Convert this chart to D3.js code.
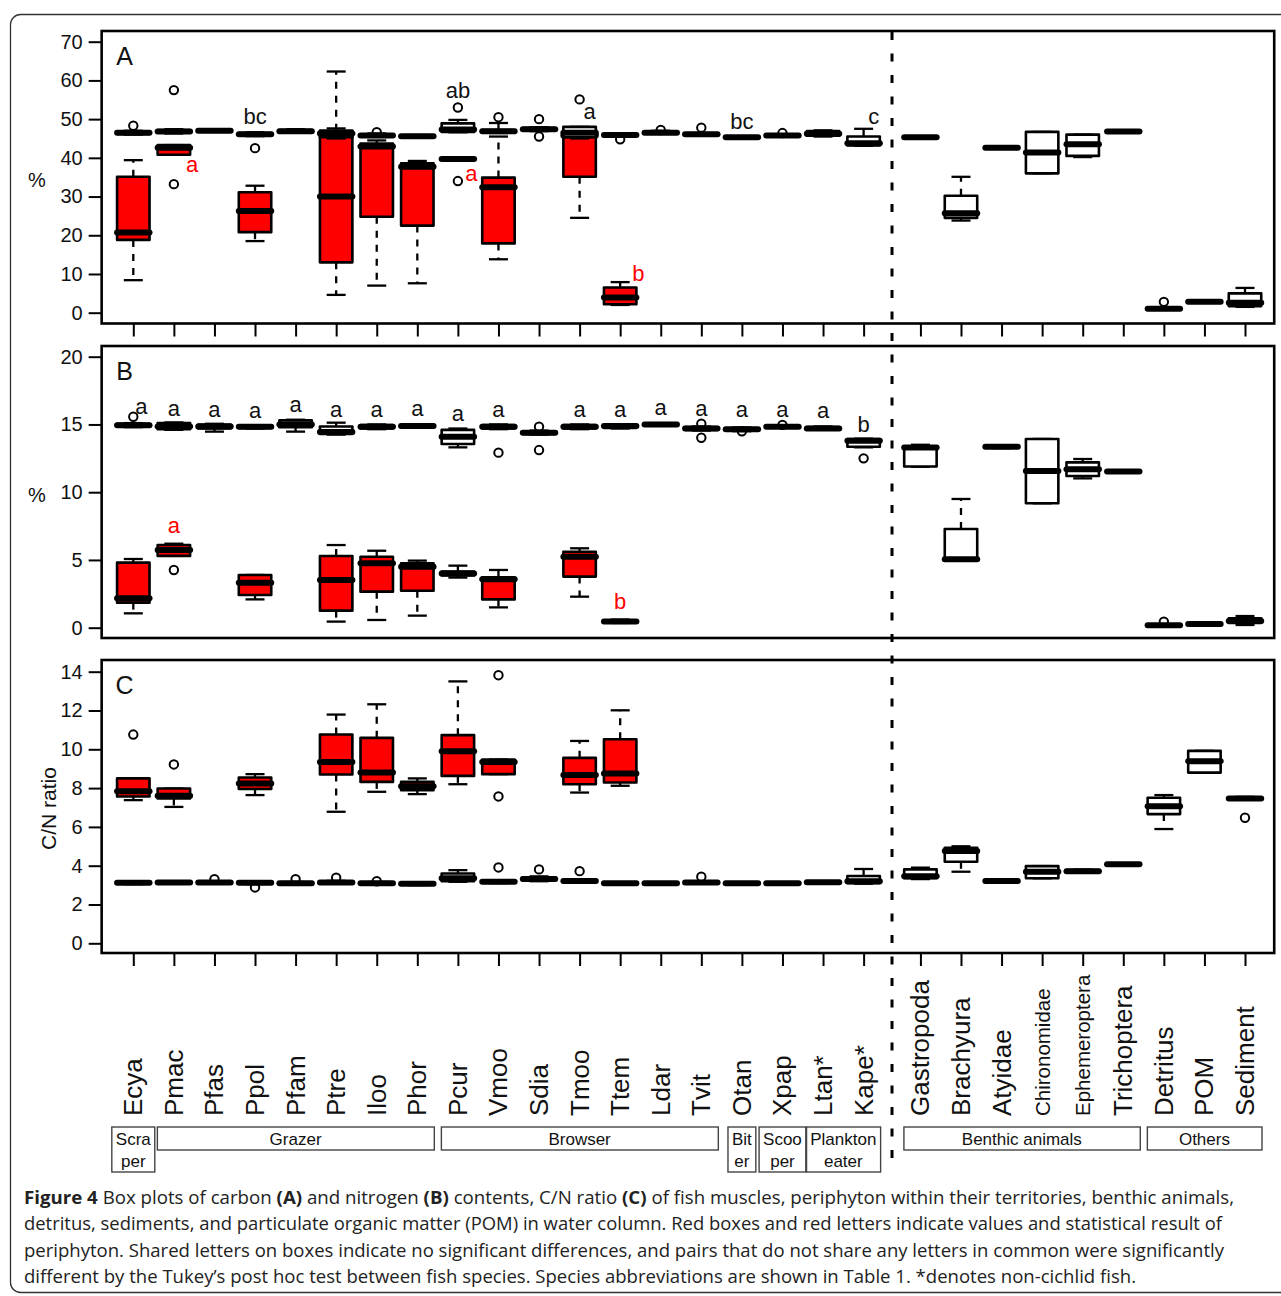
<!DOCTYPE html>
<html><head><meta charset="utf-8">
<script src="https://cdn.jsdelivr.net/npm/d3@7"></script>
<style>body{margin:0;background:#fff} svg{display:block}</style>
</head><body><div id="chart"></div>
<script>
// ---------------- DATA ----------------
const categories = ["Ecya","Pmac","Pfas","Ppol","Pfam","Ptre","Iloo","Phor","Pcur","Vmoo","Sdia","Tmoo","Ttem","Ldar","Tvit","Otan","Xpap","Ltan*","Kape*","Gastropoda","Brachyura","Atyidae","Chironomidae","Ephemeroptera","Trichoptera","Detritus","POM","Sediment"];
const smallLabels = ["Chironomidae","Ephemeroptera"];
const fishCount = 19;

// group boxes under the axis
const groupNames = [["Scra","per"],["Grazer"],["Browser"],["Bit","er"],["Scoo","per"],["Plankton","eater"],["Benthic animals"],["Others"]];
const groupFirst = [0,1,8,15,16,17,19,25];
const groupLast  = [0,7,14,15,16,18,24,27];

// five-number summaries [lower whisker, Q1, median, Q3, upper whisker]
// A: carbon content (%) – fish muscles / benthic animals / others
const carbonCons = [
 [46.0,46.2,46.5,46.8,47.0],[46.3,46.5,46.8,47.2,47.4],[46.7,46.8,47.0,47.2,47.3],[45.6,45.8,46.1,46.4,46.6],
 [46.5,46.6,46.9,47.2,47.4],[45.0,45.3,46.3,47.0,47.6],[45.4,45.5,45.8,46.1,46.3],[45.3,45.4,45.6,45.8,45.9],
 [46.6,46.7,47.3,48.9,49.8],[46.4,46.6,46.9,47.2,49.0],[46.9,47.1,47.4,47.7,47.9],[45.0,45.3,46.5,48.0,48.0],
 [45.6,45.7,45.9,46.1,46.2],[46.2,46.3,46.5,46.8,47.0],[45.8,45.9,46.1,46.3,46.4],[45.0,45.1,45.3,45.5,45.6],
 [45.6,45.7,45.8,46.0,46.1],[45.5,45.7,46.2,46.9,47.1],[43.1,43.2,43.8,45.5,47.5],
 [45.1,45.2,45.3,45.5,45.6],[23.8,24.5,25.7,30.2,35.1],[42.4,42.5,42.6,42.8,42.9],[36.0,36.0,41.4,46.7,46.7],
 [40.2,40.5,43.5,46.0,46.0],[46.6,46.7,46.8,47.0,47.1],[0.8,0.9,1.0,1.2,1.3],[2.6,2.7,2.8,2.9,3.0],[1.5,1.7,2.6,5.0,6.4]];
const carbonConsOut = [[48.3],[57.5],[],[42.5],[],[],[46.6],[],[53.0],[50.5],[50.0,45.5],[55.1],[44.8],[47.2],[47.8],[],[46.4],[],[],
 [],[],[],[],[],[],[2.8],[],[]];
// A: periphyton (fish territories only; null = not measured)
const carbonPeri = [[8.4,18.8,20.7,35.1,39.4],[40.8,40.8,42.6,43.3,43.3],null,[18.5,20.8,26.3,31.1,32.8],null,
 [4.6,13.0,30.0,47.0,62.3],[7.0,24.8,42.9,43.7,44.5],[7.6,22.5,37.7,38.6,39.2],[39.4,39.5,39.7,39.9,40.0],
 [13.8,17.9,32.4,34.9,45.5],null,[24.5,35.1,45.8,47.5,47.5],[2.0,2.2,3.9,6.5,7.9],null,null,null,null,null,null];
const carbonPeriOut = [[],[33.2],[],[],[],[],[],[],[34.0],[],[],[],[],[],[],[],[],[],[]];

// B: nitrogen content (%)
const nitroCons = [
 [14.8,14.85,14.95,15.05,15.1],[14.6,14.65,14.85,15.1,15.15],[14.47,14.7,14.85,15.0,15.05],[14.7,14.75,14.83,14.9,14.95],
 [14.47,14.8,15.0,15.3,15.35],[14.25,14.3,14.45,14.85,15.13],[14.65,14.7,14.83,14.95,15.0],[14.75,14.8,14.88,14.95,15.0],
 [13.31,13.56,14.1,14.6,14.7],[14.65,14.7,14.83,14.95,15.0],[14.25,14.3,14.39,14.5,14.55],[14.65,14.7,14.83,14.95,15.0],
 [14.7,14.75,14.88,14.95,15.0],[14.9,14.95,15.0,15.05,15.1],[14.55,14.6,14.71,14.8,14.85],[14.5,14.55,14.64,14.72,14.78],
 [14.75,14.78,14.83,14.88,14.9],[14.6,14.62,14.71,14.8,14.85],[13.31,13.35,13.8,13.93,13.95],
 [11.88,11.9,13.3,13.36,13.5],[5.0,5.0,5.05,7.28,9.5],[13.25,13.28,13.36,13.42,13.45],[9.18,9.18,11.56,13.93,13.93],
 [11.02,11.2,11.69,12.2,12.45],[11.45,11.48,11.52,11.56,11.6],[0.1,0.13,0.18,0.22,0.25],[0.22,0.24,0.27,0.3,0.32],[0.2,0.35,0.5,0.69,0.86]];
const nitroConsOut = [[15.57],[],[],[],[],[],[],[],[],[12.92],[14.83,13.11],[],[],[],[15.05,14.02],[14.5],[14.97],[],[12.5],
 [],[],[],[],[],[],[0.45],[],[]];
const nitroPeri = [[1.06,1.85,2.17,4.8,5.07],[5.3,5.3,5.73,6.1,6.2],null,[2.09,2.41,3.32,3.89,3.89],null,
 [0.45,1.26,3.52,5.29,6.1],[0.57,2.66,4.75,5.24,5.68],[0.89,2.73,4.5,4.75,4.95],[3.7,3.85,4.0,4.15,4.58],
 [1.5,2.09,3.57,3.72,4.26],null,[2.29,3.77,5.24,5.61,5.86],[0.35,0.38,0.45,0.55,0.6],null,null,null,null,null,null];
const nitroPeriOut = [[],[4.26],[],[],[],[],[],[],[],[],[],[],[],[],[],[],[],[],[]];

// C: C/N ratio
const cnCons = [
 [3.05,3.08,3.12,3.17,3.2],[3.07,3.1,3.14,3.18,3.2],[3.07,3.1,3.14,3.18,3.2],[3.05,3.08,3.12,3.16,3.2],
 [3.03,3.05,3.09,3.13,3.16],[3.07,3.1,3.14,3.18,3.22],[3.04,3.06,3.1,3.14,3.16],[3.0,3.03,3.07,3.1,3.13],
 [3.17,3.2,3.35,3.6,3.77],[3.1,3.12,3.17,3.22,3.25],[3.2,3.24,3.31,3.4,3.45],[3.15,3.17,3.21,3.26,3.3],
 [3.03,3.05,3.09,3.13,3.15],[3.05,3.07,3.1,3.13,3.15],[3.08,3.1,3.14,3.18,3.2],[3.05,3.07,3.1,3.13,3.15],
 [3.05,3.07,3.1,3.13,3.15],[3.1,3.12,3.15,3.18,3.2],[3.07,3.1,3.2,3.47,3.83],
 [3.31,3.35,3.45,3.81,3.9],[3.69,4.2,4.76,4.92,5.0],[3.16,3.18,3.21,3.25,3.27],[3.35,3.35,3.69,3.98,3.98],
 [3.65,3.68,3.72,3.77,3.8],[4.03,4.05,4.08,4.11,4.13],[5.89,6.66,7.07,7.5,7.64],[8.8,8.8,9.39,9.92,9.92],[7.4,7.43,7.47,7.51,7.55]];
const cnConsOut = [[],[],[3.31],[2.88],[3.31],[3.38],[3.2],[],[],[3.91],[3.81],[3.72],[],[],[3.43],[],[],[],[],
 [],[],[],[],[],[],[],[],[6.47]];
const cnPeri = [[7.38,7.57,7.84,8.5,8.5],[7.03,7.47,7.6,7.98,7.98],null,[7.64,7.95,8.24,8.55,8.72],null,
 [6.78,8.7,9.35,10.76,11.79],[7.81,8.32,8.8,10.59,12.32],[7.69,7.89,8.1,8.32,8.5],[8.2,8.63,9.9,10.73,13.5],
 [8.72,8.72,9.35,9.47,9.47],null,[7.77,8.2,8.67,9.56,10.43],[8.12,8.29,8.75,10.52,12.01],null,null,null,null,null,null];
const cnPeriOut = [[10.76],[9.22],[],[],[],[],[],[],[],[13.82,7.57],[],[],[],[],[],[],[],[],[]];

// significance letters: [category, text, baseline value, nudge (category units), periphyton?]
const lettersA = [["Ppol","bc",48.7,0,false],["Pcur","ab",55.4,0,false],["Tmoo","a",50.0,0.25,false],["Otan","bc",47.5,0,false],["Kape*","c",48.7,0.25,false],
 ["Pmac","a",36.4,0.45,true],["Pcur","a",34.1,0.33,true],["Ttem","b",8.3,0.45,true]];
const lettersB = [["Ecya","a",15.77,0.2,false],["Pmac","a",15.62,0,false],["Pfas","a",15.57,0,false],["Ppol","a",15.45,0,false],["Pfam","a",15.94,0,false],
 ["Ptre","a",15.57,0,false],["Iloo","a",15.57,0,false],["Phor","a",15.6,0,false],["Pcur","a",15.27,0,false],["Vmoo","a",15.57,0,false],
 ["Tmoo","a",15.57,0,false],["Ttem","a",15.57,0,false],["Ldar","a",15.7,0,false],["Tvit","a",15.65,0,false],["Otan","a",15.57,0,false],
 ["Xpap","a",15.57,0,false],["Ltan*","a",15.5,0,false],["Kape*","b",14.47,0,false],["Pmac","a",7.01,0,true],["Ttem","b",1.36,0,true]];
const lettersC = [];

const ticksA = [0,10,20,30,40,50,60,70];
const ticksB = [0,5,10,15,20];
const ticksC = [0,2,4,6,8,10,12,14];

const captionLines = [
 [["Figure 4",true],[" Box plots of carbon ",false],["(A)",true],[" and nitrogen ",false],["(B)",true],[" contents, C/N ratio ",false],["(C)",true],[" of fish muscles, periphyton within their territories, benthic animals,",false]],
 [["detritus, sediments, and particulate organic matter (POM) in water column. Red boxes and red letters indicate values and statistical result of",false]],
 [["periphyton. Shared letters on boxes indicate no significant differences, and pairs that do not share any letters in common were significantly",false]],
 [["different by the Tukey\u2019s post hoc test between fish species. Species abbreviations are shown in Table 1. *denotes non-cichlid fish.",false]]
];

// ---------------- LAYOUT ----------------
const W = 1281, H = 1296;
const FONT = "'Liberation Sans', Arial, Helvetica, sans-serif";
const svg = d3.select("#chart").append("svg").attr("width", W).attr("height", H);

// outer frame
svg.append("rect").attr("x",10.5).attr("y",14.5).attr("width",1300).attr("height",1278).attr("rx",10)
  .attr("fill","none").attr("stroke","#333").attr("stroke-width",1.3);

const pos = categories.map((c,i) => i < fishCount ? i : i + 0.4);
const x = d3.scaleLinear().domain([0, 27.4]).range([133.3, 1245]);
const step = x(1) - x(0);
const frameL = x(-0.78), frameR = x(28.12);
const half = 0.4 * step;

const panels = [
 {label:"A", top:31, bottom:323.5, range:[312.7,41.7], domain:[0,70], ticks:ticksA, cons:carbonCons, consOut:carbonConsOut, peri:carbonPeri, periOut:carbonPeriOut, letters:lettersA, xticks:true, title:"%", titleRot:false},
 {label:"B", top:346, bottom:638, range:[627.7,356.7], domain:[0,20], ticks:ticksB, cons:nitroCons, consOut:nitroConsOut, peri:nitroPeri, periOut:nitroPeriOut, letters:lettersB, xticks:false, title:"%", titleRot:false},
 {label:"C", top:660, bottom:953, range:[943.3,671.7], domain:[0,14], ticks:ticksC, cons:cnCons, consOut:cnConsOut, peri:cnPeri, periOut:cnPeriOut, letters:lettersC, xticks:true, title:"C/N ratio", titleRot:true}
];

function drawBox(g, xc, s, outs, fill, y) {
  const [lo,q1,med,q3,hi] = s;
  const cap = 9.5;
  const ln = (x1,y1,x2,y2) => g.append("line").attr("x1",x1).attr("y1",y1).attr("x2",x2).attr("y2",y2)
      .attr("stroke","#000").attr("stroke-width",2.3);
  if (hi > q3) ln(xc, y(q3), xc, y(hi)).attr("stroke-dasharray","7,7");
  if (lo < q1) ln(xc, y(q1), xc, y(lo)).attr("stroke-dasharray","7,7");
  ln(xc-cap, y(hi), xc+cap, y(hi));
  ln(xc-cap, y(lo), xc+cap, y(lo));
  g.append("rect").attr("x", xc-half).attr("width", 2*half)
    .attr("y", y(q3)).attr("height", Math.max(0.1, y(q1)-y(q3)))
    .attr("fill", fill).attr("stroke","#000").attr("stroke-width",2.6).attr("stroke-linejoin","round");
  g.append("line").attr("x1",xc-half).attr("x2",xc+half).attr("y1",y(med)).attr("y2",y(med))
    .attr("stroke","#000").attr("stroke-width",6).attr("stroke-linecap","round");
  outs.forEach(o => g.append("circle").attr("cx",xc).attr("cy",y(o)).attr("r",4.2)
    .attr("fill","none").attr("stroke","#000").attr("stroke-width",2));
}

panels.forEach(p => {
  const y = d3.scaleLinear().domain(p.domain).range(p.range);
  const g = svg.append("g");

  // y axis
  const ya = g.append("g").attr("transform",`translate(${frameL},0)`)
    .call(d3.axisLeft(y).tickValues(p.ticks).tickSize(13).tickPadding(6));
  ya.select(".domain").remove();
  ya.selectAll(".tick line").attr("stroke","#000").attr("stroke-width",2);
  ya.selectAll(".tick text").attr("font-family",FONT).attr("font-size",20).attr("fill","#111");

  // x ticks
  if (p.xticks) {
    const xa = g.append("g").attr("transform",`translate(0,${p.bottom})`)
      .call(d3.axisBottom(x).tickValues(pos).tickSize(13).tickFormat(""));
    xa.select(".domain").remove();
    xa.selectAll(".tick line").attr("stroke","#000").attr("stroke-width",2);
  }

  // boxes: periphyton first (red), consumers on top
  p.peri.forEach((s,i) => { if (s) drawBox(g, x(pos[i]), s, p.periOut[i], "#ff0000", y); });
  p.cons.forEach((s,i) => drawBox(g, x(pos[i]), s, p.consOut[i], "#ffffff", y));

  // frame
  g.append("rect").attr("x",frameL).attr("y",p.top).attr("width",frameR-frameL).attr("height",p.bottom-p.top)
    .attr("fill","none").attr("stroke","#000").attr("stroke-width",2.6);

  // panel letter
  g.append("text").attr("x",frameL+23).attr("y",p.top+34).attr("text-anchor","middle")
    .attr("font-family",FONT).attr("font-size",25).attr("fill","#111").text(p.label);

  // significance letters
  p.letters.forEach(([c,t,v,n,red]) => {
    const i = categories.indexOf(c);
    g.append("text").attr("x", x(pos[i]+n)).attr("y", y(v)).attr("text-anchor","middle")
      .attr("font-family",FONT).attr("font-size",22).attr("fill", red ? "#ff0000" : "#111").text(t);
  });

  // y title
  const cy = (p.top + p.bottom)/2;
  if (p.titleRot) {
    g.append("text").attr("transform",`translate(48,${cy+2}) rotate(-90)`).attr("text-anchor","middle")
      .attr("dominant-baseline","central").attr("font-family",FONT).attr("font-size",21).attr("fill","#111").text(p.title);
  } else {
    g.append("text").attr("x",37).attr("y",cy+3).attr("text-anchor","middle")
      .attr("dominant-baseline","central").attr("font-family",FONT).attr("font-size",20).attr("fill","#111").text(p.title);
  }
});

// dashed separator between fish and other sources
svg.append("line").attr("x1",x(18.7)).attr("x2",x(18.7)).attr("y1",32).attr("y2",1171)
  .attr("stroke","#000").attr("stroke-width",3).attr("stroke-dasharray","8,13.5");

// category labels (rotated, reading bottom to top)
categories.forEach((c,i) => {
  svg.append("text").attr("transform",`translate(${x(pos[i])},1116) rotate(-90)`)
    .attr("text-anchor","start").attr("dominant-baseline","central")
    .attr("font-family",FONT).attr("font-size", smallLabels.includes(c) ? 20.5 : 26).attr("fill","#111").text(c);
});

// feeding-group boxes
const gTop = 1127, lineH = 22;
groupNames.forEach((lines,k) => {
  const a = x(pos[groupFirst[k]]), b = x(pos[groupLast[k]]);
  const cx = (a+b)/2;
  const gg = svg.append("g");
  const texts = lines.map((t,j) => gg.append("text").attr("x",cx).attr("y",gTop+18+j*lineH)
    .attr("text-anchor","middle").attr("font-family",FONT).attr("font-size",17).attr("fill","#111").text(t));
  let x0, x1;
  if (groupFirst[k] === groupLast[k]) {
    const w = d3.max(texts, t => t.node().getComputedTextLength());
    x0 = cx - w/2 - 4; x1 = cx + w/2 + 4;
  } else {
    x0 = a - 16.5; x1 = b + 17;
  }
  gg.insert("rect","text").attr("x",x0).attr("y",gTop).attr("width",x1-x0).attr("height",lines.length*lineH+1)
    .attr("fill","none").attr("stroke","#444").attr("stroke-width",1.4);
});

// caption
const capBase = [1204,1230,1257,1283];
const capLen = [1210,1198,1200,1112];
captionLines.forEach((parts,k) => {
  const t = svg.append("text").attr("x",24).attr("y",capBase[k])
    .attr("font-family","'Open Sans', 'Noto Sans', sans-serif").attr("font-size",18).attr("fill","#222")
    .attr("textLength",capLen[k]).attr("lengthAdjust","spacingAndGlyphs");
  parts.forEach(([s,b]) => t.append("tspan").attr("font-weight", b ? 700 : 400).text(s));
});
</script>
</body></html>
